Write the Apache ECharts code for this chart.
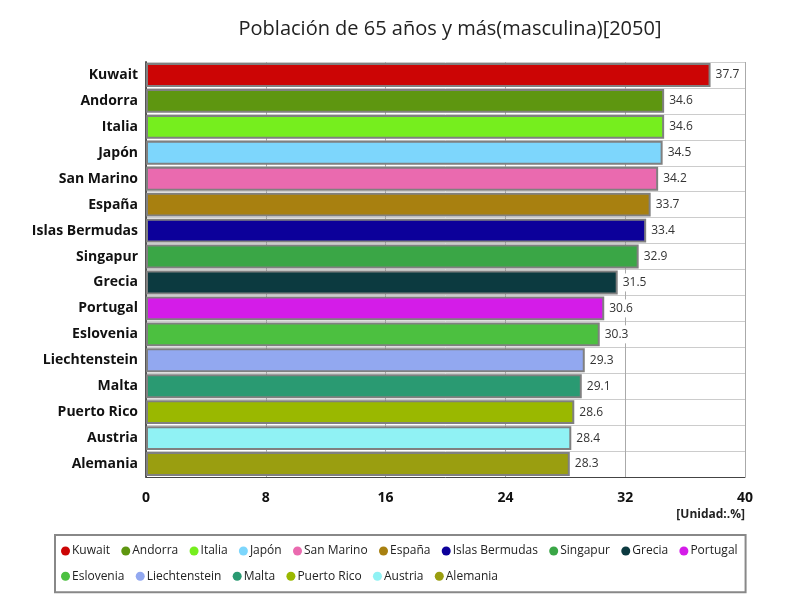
<!DOCTYPE html>
<html>
<head>
<meta charset="utf-8">
<script src="https://cdn.jsdelivr.net/npm/echarts@6/dist/echarts.min.js"></script>
<style>
  html, body { margin: 0; padding: 0; background: #fff; }
  #chart { width: 800px; height: 600px; }
</style>
</head>
<body>
<div id="chart"></div>
<script>
const countries = ['Kuwait', 'Andorra', 'Italia', 'Japón', 'San Marino', 'España', 'Islas Bermudas',
  'Singapur', 'Grecia', 'Portugal', 'Eslovenia', 'Liechtenstein', 'Malta', 'Puerto Rico', 'Austria', 'Alemania'];
const values = [37.7, 34.6, 34.6, 34.5, 34.2, 33.7, 33.4, 32.9, 31.5, 30.6, 30.3, 29.3, 29.1, 28.6, 28.4, 28.3];
const colors = ['#cc0505', '#5e9610', '#76ee1e', '#7dd6fc', '#ea6aaf', '#a88010', '#0c009a', '#3aa646',
  '#0c3a40', '#d41ce8', '#4cc040', '#92a8f0', '#2a9a72', '#9ab800', '#90f2f4', '#9a9e10'];

const chart = echarts.init(document.getElementById('chart'));

const series = countries.map((name, i) => ({
  name: name,
  type: 'bar',
  stack: 'all',
  barCategoryGap: '8%',
  itemStyle: { color: colors[i], borderColor: '#808080', borderWidth: 2 },
  label: {
    show: true,
    position: 'right',
    color: '#333',
    fontSize: 12,
    fontFamily: 'Open Sans',
    backgroundColor: '#fff',
    padding: [3, 3],
    distance: 2,
    formatter: p => p.value
  },
  data: countries.map((c, j) => (j === i ? values[i] : null))
}));

chart.setOption({
  animation: false,
  title: {
    text: 'Población de 65 años y más(masculina)[2050]',
    left: 445,
    textAlign: 'center',
    top: 14,
    textStyle: { fontSize: 20, fontWeight: 'normal', color: '#222', fontFamily: 'Open Sans' }
  },
  legend: {
    left: 55,
    top: 535,
    width: 690,
    padding: [9, 8, 9, 6],
    borderColor: '#888',
    borderWidth: 2,
    icon: 'circle',
    itemWidth: 9,
    itemHeight: 9,
    itemGap: 11.3,
    itemStyle: { borderWidth: 0 },
    textStyle: { fontSize: 12, color: '#222', fontFamily: 'Open Sans', padding: [0, 0, 0, -3], lineHeight: 14 },
    data: countries
  },
  grid: { left: 146, right: 55, top: 62, bottom: 123 },
  xAxis: {
    type: 'value',
    min: 0,
    max: 40,
    interval: 8,
    axisLine: { show: true, lineStyle: { color: '#444' } },
    axisTick: { show: false },
    axisLabel: { fontSize: 14, fontWeight: 'bold', color: '#111', margin: 14, fontFamily: 'Open Sans' },
    splitLine: { show: true, lineStyle: { color: '#aaa', type: 'solid' } },
    name: '[Unidad:.%]',
    nameLocation: 'end',
    nameGap: 0,
    nameTextStyle: { fontSize: 12, fontWeight: 'bold', color: '#222', align: 'right', verticalAlign: 'top', padding: [32, 0, 0, 0], fontFamily: 'Open Sans' }
  },
  yAxis: {
    type: 'category',
    inverse: true,
    data: countries,
    axisLine: { show: true, lineStyle: { color: '#555', width: 2 } },
    axisTick: { show: false },
    axisLabel: { fontSize: 14, fontWeight: 'bold', color: '#111', margin: 8, fontFamily: 'Open Sans' },
    splitLine: { show: true, lineStyle: { color: '#ccc' } }
  },
  series: series
});
</script>
</body>
</html>
